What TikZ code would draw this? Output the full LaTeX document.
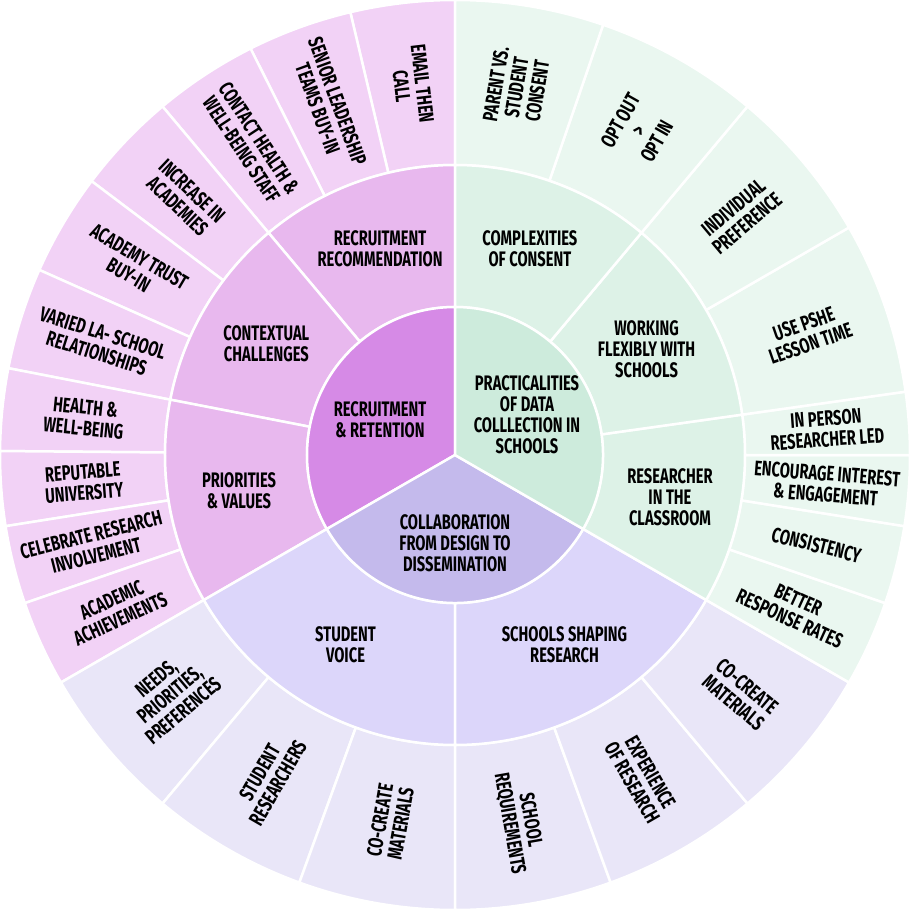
\documentclass[tikz,border=0pt]{standalone}
\usepackage{fontspec}
\setmainfont{Fira Sans}[FakeStretch=0.7]
\definecolor{Rcen}{HTML}{D68AE6}\definecolor{Rmid}{HTML}{E8B8EE}\definecolor{Rout}{HTML}{F2D2F6}
\definecolor{Pcen}{HTML}{CDEBDC}\definecolor{Pmid}{HTML}{DDF2E7}\definecolor{Pout}{HTML}{EAF7F0}
\definecolor{Ccen}{HTML}{C4BAEC}\definecolor{Cmid}{HTML}{DCD6FA}\definecolor{Cout}{HTML}{E9E6F8}
\tikzset{lbl/.style={align=center,font=\fontsize{21}{21}\selectfont\bfseries,text=black,inner sep=0pt},
 sep/.style={draw=white,line width=2.5pt}}
% #1 a1, #2 a2, #3 r1, #4 r2, #5 colour, #6 text, #7 0 radial text / 1 horizontal
\newcommand\myseg[7]{%
 \filldraw[sep,fill=#5] (#1:#3) arc[start angle=#1,end angle=#2,radius=#3] -- (#2:#4) arc[start angle=#2,end angle=#1,radius=#4] -- cycle;
 \pgfmathsetmacro\mm{(#1+#2)/2}\pgfmathsetmacro\rr{(#3+#4)/2}%
 \pgfmathsetmacro\nn{mod(\mm+720,360)}%
 \pgfmathsetmacro\rot{ifthenelse(#7==1,0,ifthenelse(and(\nn>90,\nn<270),\mm-180,\mm))}%
 \node[lbl,rotate=\rot] at (\mm:\rr) {#6};}
\begin{document}
\begin{tikzpicture}[x=1pt,y=1pt]
\useasboundingbox (-455,-455) rectangle (457,455);
% outer leaves
\myseg{90}{103.3}{290}{455}{Rout}{EMAIL THEN\\CALL}{0}
\myseg{103.3}{116.7}{290}{455}{Rout}{SENIOR LEADERSHIP\\TEAMS BUY-IN}{0}
\myseg{116.7}{130}{290}{455}{Rout}{CONTACT HEALTH \&\\WELL-BEING STAFF}{0}
\myseg{130}{143}{290}{455}{Rout}{INCREASE IN\\ACADEMIES}{0}
\myseg{143}{156}{290}{455}{Rout}{ACADEMY TRUST\\BUY-IN}{0}
\myseg{156}{169}{290}{455}{Rout}{VARIED LA- SCHOOL\\RELATIONSHIPS}{0}
\myseg{169}{179.5}{290}{455}{Rout}{HEALTH \&\\WELL-BEING}{0}
\myseg{179.5}{189}{290}{455}{Rout}{REPUTABLE\\UNIVERSITY}{0}
\myseg{189}{199}{290}{455}{Rout}{CELEBRATE RESEARCH\\INVOLVEMENT}{0}
\myseg{199}{210}{290}{455}{Rout}{ACADEMIC\\ACHIEVEMENTS}{0}
\myseg{210}{230}{290}{455}{Cout}{NEEDS,\\PRIORITIES,\\PREFERENCES}{0}
\myseg{230}{250}{290}{455}{Cout}{STUDENT\\RESEARCHERS}{0}
\myseg{250}{270}{290}{455}{Cout}{CO-CREATE\\MATERIALS}{0}
\myseg{270}{290}{290}{455}{Cout}{SCHOOL\\REQUIREMENTS}{0}
\myseg{290}{310}{290}{455}{Cout}{EXPERIENCE\\OF RESEARCH}{0}
\myseg{310}{330}{290}{455}{Cout}{CO-CREATE\\MATERIALS}{0}
\myseg{-30}{-19}{290}{455}{Pout}{BETTER\\RESPONSE RATES}{0}
\myseg{-19}{-9}{290}{455}{Pout}{CONSISTENCY}{0}
\myseg{-9}{0}{290}{455}{Pout}{ENCOURAGE INTEREST\\\& ENGAGEMENT}{0}
\myseg{0}{8}{290}{455}{Pout}{IN PERSON\\RESEARCHER LED}{0}
\myseg{8}{30}{290}{455}{Pout}{USE PSHE\\LESSON TIME}{0}
\myseg{30}{50}{290}{455}{Pout}{INDIVIDUAL\\PREFERENCE}{0}
\myseg{50}{71}{290}{455}{Pout}{OPT OUT\\>\\OPT IN}{0}
\myseg{71}{90}{290}{455}{Pout}{PARENT VS.\\STUDENT\\CONSENT}{0}
% middle ring
\myseg{90}{130}{148}{290}{Rmid}{RECRUITMENT\\RECOMMENDATION}{1}
\myseg{130}{169}{148}{290}{Rmid}{CONTEXTUAL\\CHALLENGES}{1}
\myseg{169}{210}{148}{290}{Rmid}{PRIORITIES\\\& VALUES}{1}
\myseg{210}{270}{148}{290}{Cmid}{STUDENT\\VOICE}{1}
\myseg{270}{330}{148}{290}{Cmid}{SCHOOLS SHAPING\\RESEARCH}{1}
\myseg{-30}{8}{148}{290}{Pmid}{RESEARCHER\\IN THE\\CLASSROOM}{1}
\myseg{8}{50}{148}{290}{Pmid}{WORKING\\FLEXIBLY WITH\\SCHOOLS}{1}
\myseg{50}{90}{148}{290}{Pmid}{COMPLEXITIES\\OF CONSENT}{1}
% centre
\filldraw[sep,fill=Rcen] (0,0) -- (90:148) arc[start angle=90,end angle=210,radius=148] -- cycle;
\filldraw[sep,fill=Ccen] (0,0) -- (210:148) arc[start angle=210,end angle=330,radius=148] -- cycle;
\filldraw[sep,fill=Pcen] (0,0) -- (-30:148) arc[start angle=-30,end angle=90,radius=148] -- cycle;
\node[lbl] (rr) at (-75,35) {RECRUITMENT\\\& RETENTION};
\node[lbl] (pp) at (72,40) {PRACTICALITIES\\OF DATA\\COLLLECTION IN\\SCHOOLS};
\node[lbl] (cc) at (0,-88) {COLLABORATION\\FROM DESIGN TO\\DISSEMINATION};
\end{tikzpicture}
\end{document}
